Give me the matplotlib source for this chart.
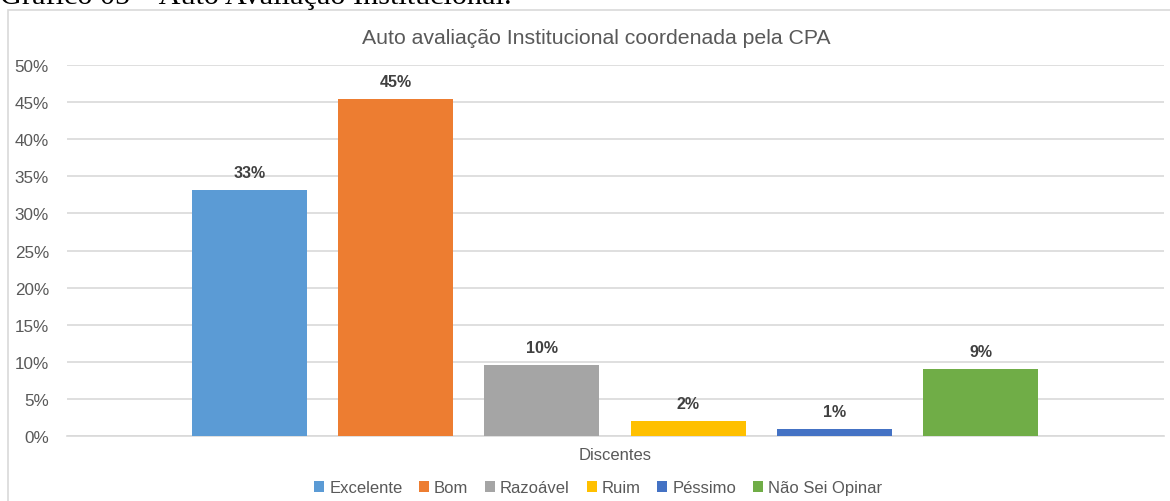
import matplotlib
matplotlib.use("Agg")
import matplotlib.pyplot as plt
from matplotlib.patches import Rectangle
from matplotlib.ticker import PercentFormatter

categories = ["Excelente", "Bom", "Razoável", "Ruim", "Péssimo", "Não Sei Opinar"]
values = [0.332, 0.454, 0.096, 0.020, 0.010, 0.090]
labels = ["33%", "45%", "10%", "2%", "1%", "9%"]
colors = ["#5B9BD5", "#ED7D31", "#A5A5A5", "#FFC000", "#4472C4", "#70AD47"]
yticks = [0, 0.05, 0.10, 0.15, 0.20, 0.25, 0.30, 0.35, 0.40, 0.45, 0.50]

plt.rcParams['font.family'] = ['Liberation Sans', 'DejaVu Sans']

W, H = 1170, 502
fig = plt.figure(figsize=(W / 100, H / 100), dpi=100)
ax = fig.add_axes([67 / W, 1 - 437 / H, (1164 - 67) / W, (437 - 66) / H])

# chart border
fig.patches.append(Rectangle((8 / W, -0.05), 1.05, 1 - 11 / H + 0.05, transform=fig.transFigure,
                             fill=False, edgecolor="#d9d9d9", linewidth=1.2))

xs = list(range(len(categories)))
bars = ax.bar(xs, values, width=0.787, color=colors, label=categories, zorder=3)
for b, lab in zip(bars, labels):
    ax.annotate(lab, (b.get_x() + b.get_width() / 2, b.get_height()), xytext=(0, 7),
                textcoords="offset points", ha="center", va="bottom",
                fontsize=11.5, fontweight="bold", color="#404040")

ax.set_xlim(-1.248, 6.255)
ax.set_ylim(0, 0.5)
ax.set_yticks(yticks)
ax.yaxis.set_major_formatter(PercentFormatter(1.0, decimals=0))
ax.tick_params(axis="y", length=0, pad=13, labelsize=12.3, labelcolor="#595959")
ax.set_xticks([])
ax.grid(axis="y", color="#d9d9d9", linewidth=1.2, zorder=0)
for s in ["top", "right", "left"]:
    ax.spines[s].set_visible(False)
ax.spines["bottom"].set_color("#d9d9d9")
ax.spines["bottom"].set_linewidth(1.2)

fig.text(615 / W, 1 - 456 / H, "Discentes", ha="center", va="center", fontsize=12, color="#595959")
fig.text(596 / W, 1 - 38 / H, "Auto avaliação Institucional coordenada pela CPA",
         ha="center", va="center", fontsize=15.3, color="#595959")
fig.text(0, 1 - 4.5 / H, "Gráfico 05 – Auto Avaliação Institucional.", ha="left", va="baseline",
         fontsize=21.8, color="black", family=["Liberation Serif", "DejaVu Serif"])

leg = fig.legend(handles=bars, labels=categories, loc="center", bbox_to_anchor=(598 / W, 1 - 489 / H),
                 ncol=6, frameon=False, fontsize=12, labelcolor="#595959",
                 handlelength=0.6, handleheight=0.6, handletextpad=0.3, columnspacing=1.0)

fig.savefig("out.png", dpi=100)
